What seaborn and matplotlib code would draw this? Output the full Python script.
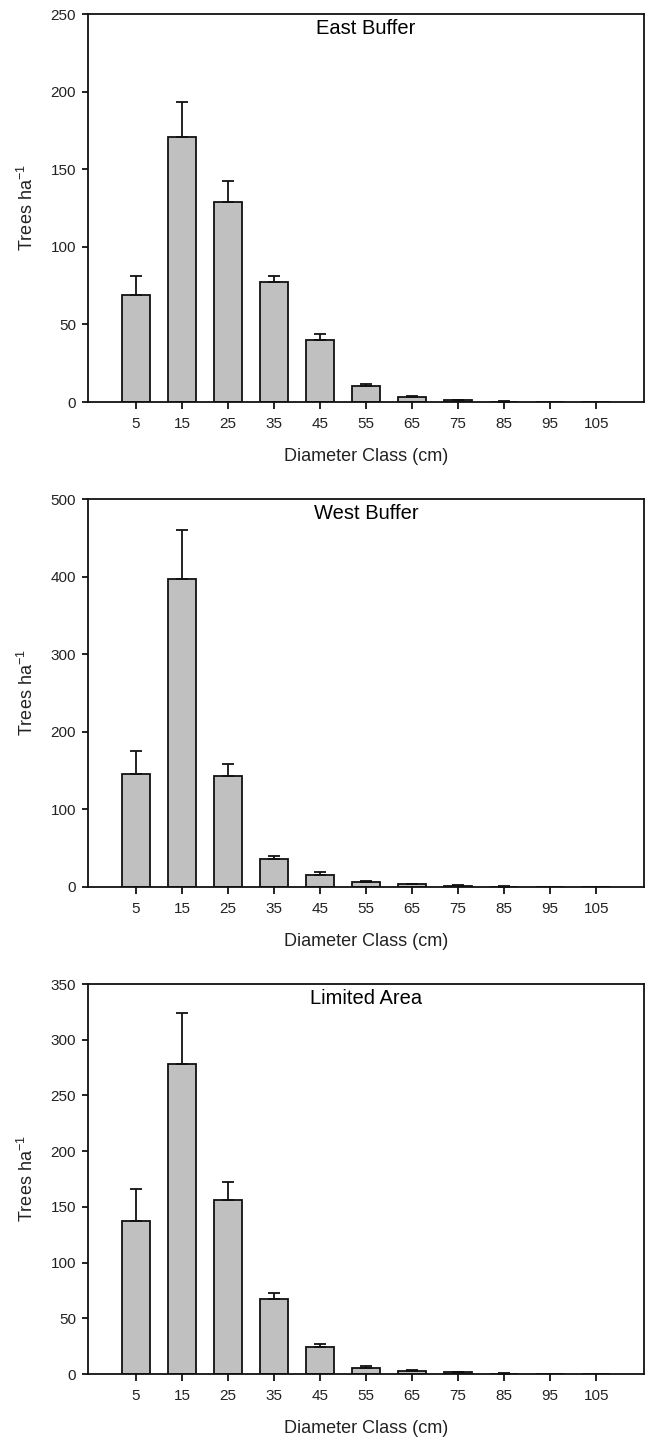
import numpy as np
import pandas as pd
import matplotlib
matplotlib.use("Agg")
import matplotlib.pyplot as plt
import seaborn as sns

# Diameter classes (cm) shared by all three panels
classes = ["5", "15", "25", "35", "45", "55", "65", "75", "85", "95", "105"]

# Mean stem density (trees per ha) and standard error per class
east_mean = [69, 171, 129, 77, 40, 10.5, 3.5, 1.3, 0.2, 0, 0]
east_se = [12, 22, 13.5, 4, 3.5, 1.3, 0.6, 0.3, 0.3, 0, 0]

west_mean = [146, 397, 143, 36, 15.5, 6, 4, 1.7, 0.3, 0, 0]
west_se = [29, 63, 15.5, 4.5, 3.5, 1.3, 0.5, 0.9, 0.5, 0, 0]

limited_mean = [137.5, 278, 156.5, 67, 24, 5.5, 3, 1.5, 0.2, 0, 0]
limited_se = [28.5, 46, 15.5, 5.5, 2.5, 1.3, 0.8, 0.3, 0.4, 0, 0]

panel_titles = ["East Buffer", "West Buffer", "Limited Area"]
y_limits = [250, 500, 350]
y_steps = [50, 100, 50]

sns.set_style("ticks")
plt.rcParams["font.family"] = ["Liberation Sans", "DejaVu Sans"]
plt.rcParams["text.color"] = "#222222"
plt.rcParams["axes.labelcolor"] = "#222222"
plt.rcParams["xtick.color"] = "#222222"
plt.rcParams["ytick.color"] = "#222222"
plt.rcParams["mathtext.default"] = "regular"

fig = plt.figure(figsize=(6.49, 14.41), dpi=100)
W, H = 649, 1441
boxes = [(14, 402), (499, 887), (984, 1374)]

panels = [
    (east_mean, east_se),
    (west_mean, west_se),
    (limited_mean, limited_se),
]

lw = 1.3

for (top, bottom), (means, ses), title, ymax, ystep in zip(
        boxes, panels, panel_titles, y_limits, y_steps):
    ax = fig.add_axes([88 / W, 1 - bottom / H, 556 / W, (bottom - top) / H])
    df = pd.DataFrame({"cls": classes, "mean": means, "se": ses})
    sns.barplot(data=df, x="cls", y="mean", order=classes, color="#c0c0c0",
                saturation=1, edgecolor="#111111", linewidth=lw, width=0.6,
                errorbar=None, ax=ax)
    pos = np.arange(len(classes))
    m = np.array(means, dtype=float)
    s = np.array(ses, dtype=float)
    keep = (m > 0) | (s > 0)
    ax.errorbar(pos[keep], m[keep], yerr=[np.zeros(keep.sum()), s[keep]],
                fmt="none", ecolor="#111111", elinewidth=lw, capsize=4.5,
                capthick=lw, zorder=1)
    ax.set_xlim(-1.04, 11.04)
    ax.set_ylim(0, ymax)
    ax.set_yticks(np.arange(0, ymax + 1, ystep))
    for sp in ax.spines.values():
        sp.set_visible(True)
        sp.set_linewidth(lw)
        sp.set_color("#111111")
    ax.tick_params(axis="both", direction="out", labelsize=11, width=lw,
                   color="#111111")
    ax.tick_params(axis="x", length=5, pad=6)
    ax.tick_params(axis="y", length=4.5, pad=4)
    ax.set_xlabel("Diameter Class (cm)", fontsize=13, labelpad=12)
    ax.set_ylabel("Trees ha$^{-1}$", fontsize=13, labelpad=10)
    ax.text(0.5, 1 - 14 / (bottom - top), title, transform=ax.transAxes,
            ha="center", va="center", fontsize=14.5, color="black")

fig.savefig("out.png", dpi=100)
